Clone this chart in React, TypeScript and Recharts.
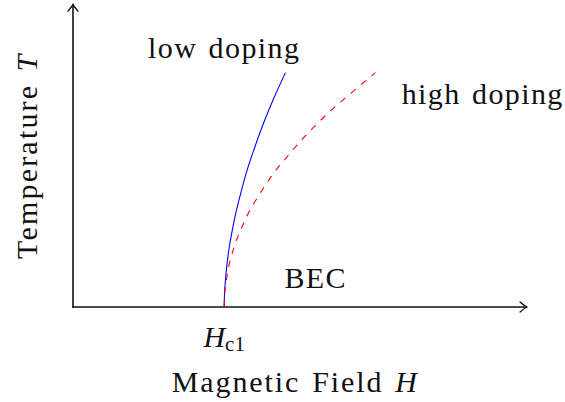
import React from "react";
import { LineChart, Line, XAxis, YAxis, ReferenceLine, ReferenceDot } from "recharts";

// Phase boundary T_c(H) for the two doping levels (field H, temperature T)
const lowDopingH = [2.0, 2.002, 2.008, 2.02, 2.04, 2.07, 2.11, 2.16, 2.22, 2.3, 2.4, 2.52, 2.66, 2.81];
const lowDopingT = [0, 0.11, 0.24, 0.4, 0.59, 0.81, 1.03, 1.27, 1.51, 1.8, 2.1, 2.43, 2.77, 3.1];

const highDopingH = [2.0, 2.005, 2.028, 2.06, 2.094, 2.169, 2.262, 2.345, 2.447, 2.557, 2.676, 2.8, 3.07, 3.38, 3.69, 4.0];
const highDopingT = [0, 0.15, 0.34, 0.54, 0.67, 0.9, 1.12, 1.29, 1.46, 1.63, 1.8, 1.95, 2.26, 2.57, 2.84, 3.1];

// Axis extents and the critical field
const fieldRange = [0, 6];
const tempRange = [0, 4];
const criticalField = 2;

const lowData = lowDopingH.map((h, i) => ({ h, t: lowDopingT[i] }));
const highData = highDopingH.map((h, i) => ({ h, t: highDopingT[i] }));

const FONT = "Liberation Serif";
const INK = "#111";

// Axis line ending in an open arrow head
const ArrowAxis = (props: any) => {
  const { x1, y1, x2, y2 } = props;
  const dx = x2 - x1;
  const dy = y2 - y1;
  const len = Math.sqrt(dx * dx + dy * dy) || 1;
  const ux = dx / len;
  const uy = dy / len;
  const nx = -uy;
  const ny = ux;
  const back = 6.5;
  const half = 5;
  const p = (a: number, b: number) => `${x2 - a * ux + b * nx},${y2 - a * uy + b * ny}`;
  const head = `M${p(back, half)} Q${p(1.5, 0.8)} ${x2},${y2} Q${p(1.5, -0.8)} ${p(back, -half)}`;
  return (
    <g>
      <line x1={x1} y1={y1} x2={x2} y2={y2} stroke={INK} strokeWidth={1.6} strokeLinecap="square" />
      <path d={head} fill="none" stroke={INK} strokeWidth={1.4} strokeLinecap="round" strokeLinejoin="round" />
    </g>
  );
};

const makeNote = (label: string, italicTail?: string, rotate?: boolean, spacing = 1.4) => (p: any) => (
  <text
    x={p.cx}
    y={p.cy}
    textAnchor="middle"
    fontFamily={FONT}
    fontSize={30}
    fill={INK}
    letterSpacing={spacing}
    wordSpacing={2.5}
    transform={rotate ? `rotate(-90, ${p.cx}, ${p.cy})` : undefined}
  >
    {label}
    {italicTail ? <tspan fontStyle="italic">{italicTail}</tspan> : null}
  </text>
);

const CriticalFieldLabel = (p: any) => (
  <text x={p.cx} y={p.cy} textAnchor="middle" fontFamily={FONT} fill={INK}>
    <tspan fontSize={30} fontStyle="italic">H</tspan>
    <tspan fontSize={21} dy={4}>c1</tspan>
  </text>
);

export default function App() {
  return (
    <div style={{ position: "absolute", left: 0, top: 0, background: "#fff" }}>
      <LineChart
        width={565}
        height={402}
        margin={{ top: 4.6, right: 38.4, bottom: 95, left: 73 }}
      >
        <XAxis type="number" dataKey="h" domain={fieldRange} allowDataOverflow hide />
        <YAxis type="number" dataKey="t" domain={tempRange} allowDataOverflow hide />

        <ReferenceLine segment={[{ x: 0, y: 0 }, { x: 6, y: 0 }]} shape={ArrowAxis} ifOverflow="visible" />
        <ReferenceLine segment={[{ x: 0, y: 0 }, { x: 0, y: 4 }]} shape={ArrowAxis} ifOverflow="visible" />

        <Line
          data={lowData}
          dataKey="t"
          type="monotoneY"
          stroke="#0000ff"
          strokeWidth={1.1}
          dot={false}
          activeDot={false}
          isAnimationActive={false}
        />
        <Line
          data={highData}
          dataKey="t"
          type="monotoneY"
          stroke="#ff0000"
          strokeWidth={1.1}
          strokeDasharray="6.5 7"
          dot={false}
          activeDot={false}
          isAnimationActive={false}
        />

        <ReferenceDot x={2.0} y={3.3} ifOverflow="visible" shape={makeNote("low doping")} />
        <ReferenceDot x={5.42} y={2.69} ifOverflow="visible" shape={makeNote("high doping")} />
        <ReferenceDot x={3.21} y={0.25} ifOverflow="visible" shape={makeNote("BEC")} />
        <ReferenceDot x={criticalField} y={-0.525} ifOverflow="visible" shape={CriticalFieldLabel} />
        <ReferenceDot x={2.94} y={-1.12} ifOverflow="visible" shape={makeNote("Magnetic Field ", "H", false, 1.9)} />
        <ReferenceDot x={-0.47} y={2.0} ifOverflow="visible" shape={makeNote("Temperature ", "T", true, 2.2)} />
      </LineChart>
    </div>
  );
}
